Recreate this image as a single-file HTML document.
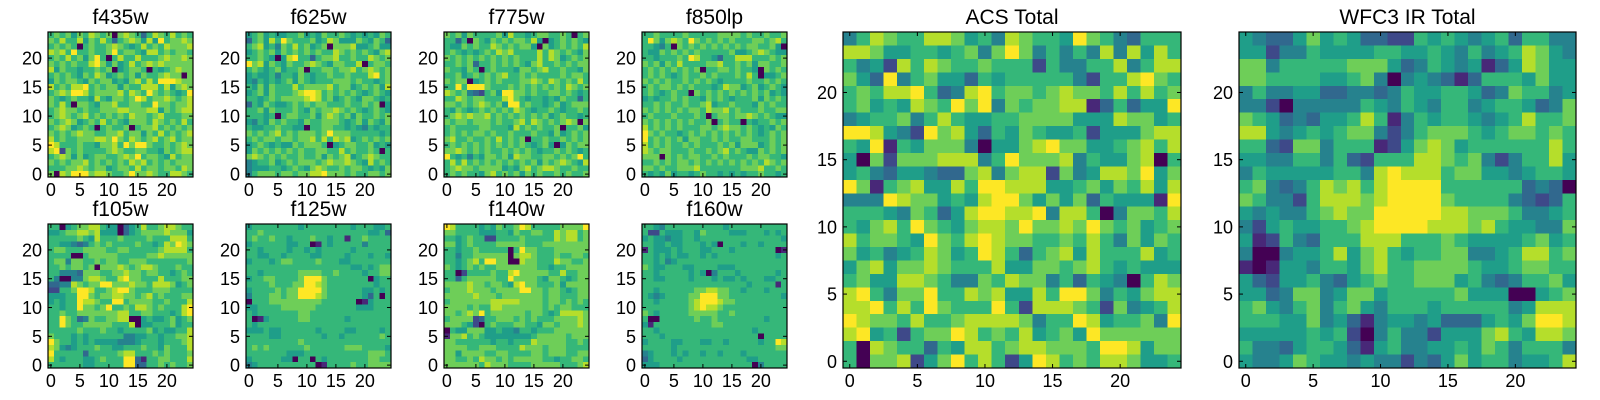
<!DOCTYPE html>
<html><head><meta charset="utf-8">
<style>
html,body{margin:0;padding:0;background:#fff;}
svg{display:block;}
text{font-family:"Liberation Sans","DejaVu Sans",sans-serif;fill:#000;}
</style></head>
<body>
<svg id="fig" width="1600" height="400" viewBox="0 0 1600 400" xmlns="http://www.w3.org/2000/svg"></svg>
<script>
// Pixel intensity levels 0..9 (viridis), rows listed top (y=24) to bottom (y=0)
const f435w = ["6767576876707876368768676","7686685768636787585967787","6767606766787656867687778","8786966766796776588676776","6768675796068668666787787","7676766897575686787877777","8576656676705677606567877","6767657687567675766787707","5767765767756578686999877","8676889676775766888685787","6787998677778687697676569","7656766586577679867787678","7686077657786677669776778","6787767667778877788576788","6787678676767687767866677","7678756768676577768767686","6787567606766706778676767","7676787766778677576867678","8676677788797687678678677","9866676657786979976676787","8927676666787667766576788","6787575677667879677658677","7676778676767687867676777","6667787677567768677677687","7087999788766797787668876"];
const f625w = ["5675655667565766765656576","3675869766675687555765763","6785647686756707778556755","5676757676767668767676578","6676505896636778667668767","9785765766787657766806776","6765675667066776778678767","5655646657656676676668967","5465656757656667776766567","6575766686777786775676758","5675766678998676767656765","6656767777898675676577656","3657655676767766676676705","6675766676576778767656765","6665606776675787675766767","5465767665766777656757657","6556676655066776656546566","7676786767776797776666656","6767767767786868785676767","5676565576777605677667565","5767676767667766867667606","7876767667667576785678766","4566756767776787787658676","4555665676578766767765657","4677767767788977767667767"];
const f775w = ["7675766667586656776676067","6636076576767768505676765","6557676687676775075676768","6765656768786666868767657","7676767676767666868756767","6676736676767657866767677","7665760676665776786676657","6675676767866767666676776","7677056767666778768767686","6696999766676767676768767","8767432675997767667767656","6687677666897656656576636","7767678767599676656756777","6576567676768765667656676","6787877867676767675676656","7677677767667868767678707","6766667766658676766706675","6767677676676667665756767","7866766768676706676676767","6767676767676765675057677","7787676766767676566767656","9656465776758776677676796","6868676767676767576787658","6787767777565786788766766","6767665786767576766767667"];
const f850lp = ["6676666766666777767667667","6975787697676767666776786","6654607676767676767766750","6557676767666667556787655","6656667698665366888666767","7675768666677866767577667","6767676767066776766507676","6767656766767666768605567","7676766767676566667667676","6767767676665687756756765","6765676607676767676767565","5656676766576765666757676","6676766766785667666576766","7676767677687786766676677","6766676667606776778767655","7676767676670676606566767","8676767666776787767656576","9767665676767676767656767","9676767577667676677666767","8676766767666767577756767","8767766676676786765576767","7770767677667676667677665","6676767767676767676768767","7767667778666666677786676","6565756656766565656676656"];
const f105w = ["6605677886550356866788766","5567788785550356777787775","6666676586667666676668886","6655434676766667665687987","6776667777667766666788886","6666006777776666677877777","6774776676776677766666667","6676776707778767887666766","6644437776677877677665676","6400447887668977666866677","3344876779977787768887567","2266799866789976667776666","5556699767788776786766677","5656698876699677776676668","6656697767966768876766689","6676677777778866776665689","6697634766778800565567567","6697667777766680556667566","6666676667665666675655668","7666565666666445566566778","9766565655554445666566678","8754566676655666766576668","9666663666667886667676667","8656665567666993166776668","6666665566666993366767667"];
const f125w = ["5666666665666666665666556","6676666666666666666665563","6766766566676656616676666","5666666556601656666646666","6656666566565666665666666","6655665666655666656665665","5666567766667666556666666","6666666666666666665565677","6656666667777667666656677","5667766667999766666660566","6666766677998766666666566","5666676779999766666655656","4666776779998766666653606","0666777777777666666015666","5566667777776666666555666","6566666667766666666666666","6015666667766666656666666","6566666666666666666666666","5556556666665666655666656","6666556666666566566666676","6666666667666666666666666","6767666666766666677766665","6666666555666666666667776","5666665506606566666667766","4566666666660166667667777"];
const f140w = ["9866665657667986666677779","7766665556657667766878867","6656766226666766666878867","7756766667777766677777777","6656676666606977666777777","6646677777707887666766776","6656786997700877666877667","7656767667777777665667777","6602666676689777776686677","6636777776697777657765677","7777877677658977666757777","6777877767777997767765677","7777787776777777767766677","6777777788888777767767676","7777676688777777767677666","7767879677777767765688887","6777723667776767666777787","7776520676667766577677787","0655777556554665666777777","1778676555555556777776777","7766666656656668777776676","7777667776666877767776666","7757777667766667767776677","7766768776767777766566776","7777776877766667777766678"];
const f160w = ["6654666666666656666666666","6226555665766665556665656","5655455665666666666666665","6655655666565066656656666","1655565666556665666666601","6656565566565666666666656","6656456666666666666666666","7655666556666555666666666","6656666656504666566666656","6655666656665655656665566","6666666666666666665666616","6656666667788776656665666","6545666677999776666666665","6656666678999877666666666","6666666678988766666666666","7656666677777667666666666","6006666667667666666665666","5166666666667766666666666","6656666666666666666566666","6665666666666666666606666","5666655666556656666656698","6666656666666666666666677","4566656566566566656666666","3566665666666666665566666","5556666666666666666046666"];
const acsTotal = ["4687668875648766597643666","8875566567479746464848586","6452868766766626446684688","7539467553656666642668976","6768896348967767877686867","6756587697947677881363559","4566746865566777755587756","9985429785365765562555788","6591657774055789775567868","5072777888469777846557806","5643554337847882745887957","9716785586998885567576858","4449877565899757573655519","6665476358998894886047768","6578697657887977879767567","8677659768987766768647576","7564568756986367858666856","5785778766685577678656555","6755887644768774636540687","8964779668785586997465788","8896869766696288876274568","9877686678888746698566749","8956267798676856759777777","6087663658867887776998577","6077825796862598676887556"];
const wfc3Total = ["5433575653322656545636644","5524465555665565464568754","7746666677753465451358755","7766665567404543136665755","4644553344346556653476645","4420444446546546645665347","7653435568614656654568667","8854565677424677765677676","6632774666125787566666686","5544664632666887674246685","4655555664898886775545665","6743468786899996666663430","7644268887899997666643236","5454467877999998877764456","4256556678999988878655447","5126436668886667655556756","4004556857865667744568867","1015546657866777765567766","5325564356766777564346675","5534774577566666755500567","6754674675466656666645888","6665574531455453335657998","5555565620464425557865887","6443566531564455657646664","5445765545442435756645568"];

const xTicks = [0, 5, 10, 15, 20];
const yTicks = [0, 5, 10, 15, 20];
const titles = ["f435w","f625w","f775w","f850lp","f105w","f125w","f140w","f160w","ACS Total","WFC3 IR Total"];
const panelData = [f435w,f625w,f775w,f850lp,f105w,f125w,f140w,f160w,acsTotal,wfc3Total];
const names = ["f435w","f625w","f775w","f850lp","f105w","f125w","f140w","f160w","acs-total","wfc3-ir-total"];

const NS = "http://www.w3.org/2000/svg";
const svg = document.getElementById('fig');
const vir = ["#440154","#482878","#3e4989","#31688e","#26828e","#1f9e89","#35b779","#6ece58","#b5de2b","#fde725"];
const vstops = [[68,1,84],[72,40,120],[62,73,137],[49,104,142],[38,130,142],[31,158,137],[53,183,121],[110,206,88],[181,222,43],[253,231,37]];
function color(v){ const t=Math.max(0,Math.min(9,v)); const i=Math.min(8,Math.floor(t)); const f=t-i; const a=vstops[i],b=vstops[i+1]; return "rgb("+a.map((c,k)=>Math.round(c+(b[k]-c)*f)).join(",")+")"; }

const layout = [
 [48,32,145,145],[246,32,145,145],[444,32,145,145],[642,32,145,145],
 [48,224,145,144],[246,224,145,144],[444,224,145,144],[642,224,145,144],
 [843,32,338,336],[1239,32,337,336]
];

function mk(tag, attrs, parent){ const e=document.createElementNS(NS,tag); for(const k in attrs) e.setAttribute(k,attrs[k]); (parent||svg).appendChild(e); return e; }

panelData.forEach((data, p) => {
  const [x0,y0,w,h] = layout[p];
  const big = p >= 8;
  const g = mk('g', {});
  
  
  const xs = v => x0 + (v + 0.5) / 25 * w;
  const ys = v => y0 + (24.5 - v) / 25 * h;
  const cw = w/25, ch = h/25;
  const cells = mk('g', {'shape-rendering':'crispEdges'}, g);
  
  
  for (let i = 0; i < 25; i++) {
    const row = data[i] || "";
    const yv = 24 - i;
    for (let c = 0; c < 25; c++) {
      const ch_ = row.charAt(c);
      const v = ch_ === "" ? 6 : +ch_;
      const r = mk('rect', {x: (xs(c)-cw/2).toFixed(2), y: (ys(yv)-ch/2).toFixed(2), width:(cw+0.6).toFixed(2), height:(ch+0.6).toFixed(2), fill: color(v)}, cells);
      
      
    }
  }
  const fr = mk('rect', {x:x0, y:y0, width:w, height:h, fill:'none', stroke:'#000', 'stroke-width':1.2}, g);
  
  
  const fs = 18;
  xTicks.forEach(t => {
    const x = xs(t);
    mk('line', {x1:x, y1:y0+h, x2:x, y2:y0+h-4, stroke:'#000', 'stroke-width':1}, g);
    mk('line', {x1:x, y1:y0, x2:x, y2:y0+4, stroke:'#000', 'stroke-width':1}, g);
    const tx = mk('text', {x:x, y:y0+h+19, 'text-anchor':'middle', 'font-size':fs}, g);
    tx.textContent = t;
    
    
  });
  yTicks.forEach(t => {
    const y = ys(t);
    mk('line', {x1:x0, y1:y, x2:x0+4, y2:y, stroke:'#000', 'stroke-width':1}, g);
    mk('line', {x1:x0+w, y1:y, x2:x0+w-4, y2:y, stroke:'#000', 'stroke-width':1}, g);
    const ty = mk('text', {x:x0-6, y:y+6.5, 'text-anchor':'end', 'font-size':fs}, g);
    ty.textContent = t;
    
    
  });
  const tt = mk('text', {x:x0+w/2, y:y0-8, 'text-anchor':'middle', 'font-size':21}, g);
  tt.textContent = titles[p];
  
  
});
</script>
</body></html>
